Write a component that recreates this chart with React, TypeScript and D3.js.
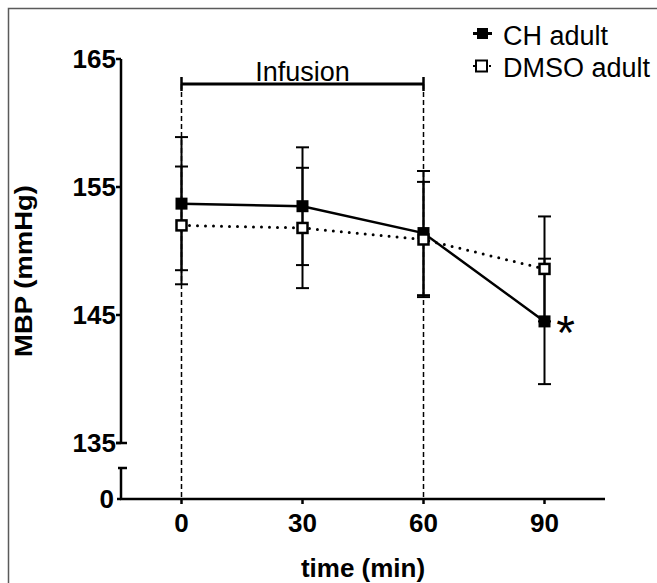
import React, { useEffect, useRef } from 'react';
import * as d3 from 'd3';

// data
const times = [0, 30, 60, 90];
const chMean = [153.7, 153.5, 151.4, 144.5];
const chErr = [5.2, 4.6, 4.85, 4.9];
const dmsoMean = [152.0, 151.8, 150.9, 148.6];
const dmsoErr = [4.6, 4.7, 4.5, 4.1];
const yTicksUpper = [135, 145, 155, 165];
const yTicksLower = [0];
const xTicks = [0, 30, 60, 90];
const infusion = [0, 60];
const seriesNames = ['CH adult', 'DMSO adult'];

const FONT = '"Liberation Sans", Arial, sans-serif';

export default function App() {
    const ref = useRef<SVGSVGElement>(null);

    useEffect(() => {
        const width = 657;
        const height = 583;

        const svg = d3.select(ref.current);
        svg.selectAll('*').remove();

        svg.append('rect')
            .attr('width', width)
            .attr('height', height)
            .attr('fill', '#fff');

        // gray frame on top and left
        svg.append('path')
            .attr('d', `M8.5,${height} V8.5 H${width}`)
            .attr('fill', 'none')
            .attr('stroke', '#5a5a5a')
            .attr('stroke-width', 1.5);

        // scales: broken y axis, upper part and the little 0 stub
        const x = d3.scaleLinear().domain([-15, 105]).range([121, 605]);
        const y = d3.scaleLinear().domain([135, 165]).range([443, 59]);
        const y0 = d3.scaleLinear().domain([0, 1]).range([499, 468]);
        const axisX = 121;

        const g = svg.append('g')
            .attr('font-family', FONT)
            .attr('fill', '#000');

        // y axis upper part
        g.append('line')
            .attr('x1', axisX).attr('x2', axisX)
            .attr('y1', y(165)).attr('y2', y(135))
            .attr('stroke', '#000').attr('stroke-width', 2.5);
        // break cap
        g.append('line')
            .attr('x1', axisX - 5).attr('x2', axisX + 6)
            .attr('y1', y(135)).attr('y2', y(135))
            .attr('stroke', '#000').attr('stroke-width', 2.5);

        g.selectAll('.ytick')
            .data(yTicksUpper)
            .join('line')
            .attr('class', 'ytick')
            .attr('x1', axisX - 5).attr('x2', axisX)
            .attr('y1', d => y(d)).attr('y2', d => y(d))
            .attr('stroke', '#000').attr('stroke-width', 2.5);

        g.selectAll('.ylabel')
            .data(yTicksUpper)
            .join('text')
            .attr('class', 'ylabel')
            .attr('x', axisX - 5)
            .attr('y', d => y(d))
            .attr('dy', '0.36em')
            .attr('text-anchor', 'end')
            .attr('font-size', 26)
            .attr('font-weight', 'bold')
            .text(d => d);

        // lower stub of the y axis
        g.append('line')
            .attr('x1', axisX).attr('x2', axisX)
            .attr('y1', y0(1)).attr('y2', y0(0))
            .attr('stroke', '#000').attr('stroke-width', 2.5);
        g.append('line')
            .attr('x1', axisX - 3).attr('x2', axisX + 6)
            .attr('y1', y0(1)).attr('y2', y0(1))
            .attr('stroke', '#000').attr('stroke-width', 2.5);
        g.selectAll('.y0tick')
            .data(yTicksLower)
            .join('line')
            .attr('class', 'y0tick')
            .attr('x1', axisX - 4).attr('x2', axisX)
            .attr('y1', d => y0(d)).attr('y2', d => y0(d))
            .attr('stroke', '#000').attr('stroke-width', 2.5);
        g.selectAll('.y0label')
            .data(yTicksLower)
            .join('text')
            .attr('class', 'y0label')
            .attr('x', axisX - 7)
            .attr('y', d => y0(d))
            .attr('dy', '0.36em')
            .attr('text-anchor', 'end')
            .attr('font-size', 26)
            .attr('font-weight', 'bold')
            .text(d => d);

        // x axis
        g.append('line')
            .attr('x1', axisX - 1).attr('x2', x(105))
            .attr('y1', y0(0)).attr('y2', y0(0))
            .attr('stroke', '#000').attr('stroke-width', 2.5);
        g.selectAll('.xtick')
            .data(xTicks)
            .join('line')
            .attr('class', 'xtick')
            .attr('x1', d => x(d)).attr('x2', d => x(d))
            .attr('y1', y0(0)).attr('y2', y0(0) + 5)
            .attr('stroke', '#000').attr('stroke-width', 2.5);
        g.selectAll('.xlabel')
            .data(xTicks)
            .join('text')
            .attr('class', 'xlabel')
            .attr('x', d => x(d))
            .attr('y', 532)
            .attr('text-anchor', 'middle')
            .attr('font-size', 26)
            .attr('font-weight', 'bold')
            .text(d => d);

        // axis titles
        g.append('text')
            .attr('x', x(45))
            .attr('y', 577)
            .attr('text-anchor', 'middle')
            .attr('font-size', 26)
            .attr('font-weight', 'bold')
            .text('time (min)');
        g.append('text')
            .attr('transform', 'translate(32,271) rotate(-90)')
            .attr('text-anchor', 'middle')
            .attr('font-size', 23)
            .attr('font-weight', 'bold')
            .attr('textLength', 172)
            .attr('lengthAdjust', 'spacingAndGlyphs')
            .text('MBP (mmHg)');

        // infusion period: dashed guides and bracket
        const barY = 84;
        g.selectAll('.guide')
            .data(infusion)
            .join('line')
            .attr('class', 'guide')
            .attr('x1', d => x(d)).attr('x2', d => x(d))
            .attr('y1', barY).attr('y2', y0(0))
            .attr('stroke', '#000').attr('stroke-width', 1.5)
            .attr('stroke-dasharray', '5,3');
        g.append('line')
            .attr('x1', x(infusion[0])).attr('x2', x(infusion[1]))
            .attr('y1', barY).attr('y2', barY)
            .attr('stroke', '#000').attr('stroke-width', 3);
        g.selectAll('.cap')
            .data(infusion)
            .join('line')
            .attr('class', 'cap')
            .attr('x1', d => x(d)).attr('x2', d => x(d))
            .attr('y1', barY - 7).attr('y2', barY + 7)
            .attr('stroke', '#000').attr('stroke-width', 2.5);
        g.append('text')
            .attr('x', x((infusion[0] + infusion[1]) / 2))
            .attr('y', 81)
            .attr('text-anchor', 'middle')
            .attr('font-size', 27)
            .text('Infusion');

        const ch = times.map((t, i) => ({ t, m: chMean[i], e: chErr[i] }));
        const dm = times.map((t, i) => ({ t, m: dmsoMean[i], e: dmsoErr[i] }));
        const line = d3.line<{ t: number; m: number }>().x(d => x(d.t)).y(d => y(d.m));

        // error bars
        const errorBars = (data, cls) => {
            g.selectAll('.' + cls + 'v')
                .data(data)
                .join('line')
                .attr('class', cls + 'v')
                .attr('x1', d => x(d.t)).attr('x2', d => x(d.t))
                .attr('y1', d => y(d.m + d.e)).attr('y2', d => y(d.m - d.e))
                .attr('stroke', '#000').attr('stroke-width', 2);
            ['hi', 'lo'].forEach(side => {
                g.selectAll('.' + cls + side)
                    .data(data)
                    .join('line')
                    .attr('class', cls + side)
                    .attr('x1', d => x(d.t) - 6.5).attr('x2', d => x(d.t) + 6.5)
                    .attr('y1', d => y(side === 'hi' ? d.m + d.e : d.m - d.e))
                    .attr('y2', d => y(side === 'hi' ? d.m + d.e : d.m - d.e))
                    .attr('stroke', '#000').attr('stroke-width', 2);
            });
        };
        errorBars(ch, 'ech');
        errorBars(dm, 'edm');

        // lines
        g.append('path')
            .datum(dm)
            .attr('d', line)
            .attr('fill', 'none')
            .attr('stroke', '#000').attr('stroke-width', 3)
            .attr('stroke-linecap', 'round')
            .attr('stroke-dasharray', '0,8');
        g.append('path')
            .datum(ch)
            .attr('d', line)
            .attr('fill', 'none')
            .attr('stroke', '#000').attr('stroke-width', 2.5);

        // markers: CH filled, DMSO open on top
        const size = 12;
        g.selectAll('.mch')
            .data(ch)
            .join('rect')
            .attr('class', 'mch')
            .attr('x', d => x(d.t) - size / 2).attr('y', d => y(d.m) - size / 2)
            .attr('width', size).attr('height', size)
            .attr('fill', '#000');
        g.selectAll('.mdm')
            .data(dm)
            .join('rect')
            .attr('class', 'mdm')
            .attr('x', d => x(d.t) - (size - 2) / 2).attr('y', d => y(d.m) - (size - 2) / 2)
            .attr('width', size - 2).attr('height', size - 2)
            .attr('fill', '#fff')
            .attr('stroke', '#000').attr('stroke-width', 2.5);

        // significance mark
        const last = ch[ch.length - 1];
        g.append('text')
            .attr('x', x(last.t) + 21)
            .attr('y', y(last.m) + 28)
            .attr('text-anchor', 'middle')
            .attr('font-size', 48)
            .text('*');

        // legend
        const legend = g.append('g');
        const rows = [
            { name: seriesNames[0], ly: 33.5, filled: true },
            { name: seriesNames[1], ly: 66, filled: false },
        ];
        rows.forEach(r => {
            legend.append('line')
                .attr('x1', 473).attr('x2', 492)
                .attr('y1', r.ly).attr('y2', r.ly)
                .attr('stroke', '#000').attr('stroke-width', r.filled ? 3 : 2)
                .attr('stroke-dasharray', r.filled ? null : '2,2');
            if (r.filled) {
                legend.append('rect')
                    .attr('x', 477).attr('y', r.ly - 5.5)
                    .attr('width', 11).attr('height', 11)
                    .attr('fill', '#000');
            } else {
                legend.append('rect')
                    .attr('x', 476).attr('y', r.ly - 5.5)
                    .attr('width', 11).attr('height', 11)
                    .attr('fill', '#fff')
                    .attr('stroke', '#000').attr('stroke-width', 2);
            }
            legend.append('text')
                .attr('x', 503)
                .attr('y', r.ly + 11)
                .attr('font-size', 27)
                .text(r.name);
        });
    }, []);

    return (
        <svg ref={ref} width={657} height={583}
            style={{ position: 'absolute', left: 0, top: 0, display: 'block' }} />
    );
}
